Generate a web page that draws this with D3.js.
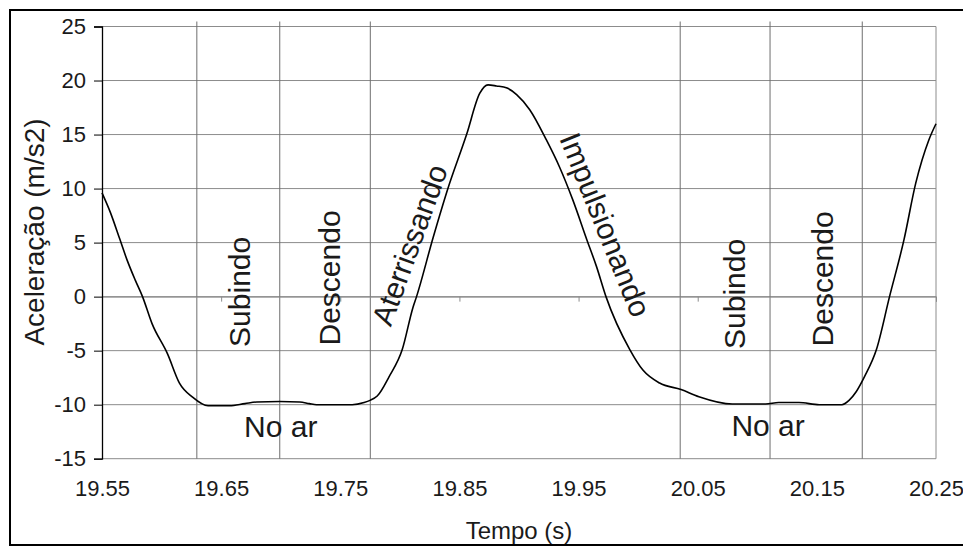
<!DOCTYPE html>
<html>
<head>
<meta charset="utf-8">
<script src="https://cdn.jsdelivr.net/npm/d3@7"></script>
<style>
  html, body { margin: 0; padding: 0; background: #fff; }
  svg { display: block; }
  text { font-family: "Liberation Sans", Arial, sans-serif; fill: #1a1a1a; }
</style>
</head>
<body>
<svg id="chart" width="963" height="547"></svg>
<script>
// ---- data ----
const timeS = [19.550, 19.557, 19.565, 19.571, 19.578, 19.584, 19.592, 19.605, 19.615, 19.626,
               19.639, 19.657, 19.670, 19.680, 19.699, 19.716, 19.724, 19.730, 19.760, 19.770,
               19.775, 19.781, 19.791, 19.802, 19.811, 19.814, 19.828, 19.840, 19.856, 19.867,
               19.874, 19.881, 19.890, 19.898, 19.909, 19.923, 19.934, 19.945, 19.957, 19.965,
               19.973, 19.993, 20.004, 20.018, 20.036, 20.051, 20.079, 20.107, 20.118, 20.135,
               20.152, 20.171, 20.177, 20.183, 20.190, 20.200, 20.211, 20.223, 20.233, 20.244,
               20.250];
const accel = [9.6, 7.8, 5.3, 3.4, 1.5, 0.0, -2.5, -5.3, -8.0, -9.3,
               -10.1, -10.1, -9.9, -9.75, -9.7, -9.75, -9.9, -10.0, -10.0, -9.8,
               -9.6, -9.2, -7.4, -4.9, -1.0, 0.0, 5.5, 9.9, 15.0, 18.8,
               19.6, 19.5, 19.3, 18.7, 17.3, 14.5, 12.0, 9.0, 5.25, 2.8,
               0.0, -4.9, -6.8, -8.0, -8.6, -9.26, -9.94, -9.94, -9.8, -9.8,
               -10.0, -10.0, -9.6, -8.8, -7.4, -4.9, 0.0, 5.2, 10.5, 14.5,
               16.0];

const xTicks = [19.55, 19.65, 19.75, 19.85, 19.95, 20.05, 20.15, 20.25];
const yTicks = [-15, -10, -5, 0, 5, 10, 15, 20, 25];
const phaseTimes = [19.6296, 19.6992, 19.7752, 20.0353, 20.1107, 20.1881];

const noteText  = ["Subindo", "Descendo", "Aterrissando", "Impulsionando", "Subindo", "Descendo"];
const noteTime  = [19.6657, 19.7411, 19.8082, 19.9725, 20.0806, 20.1544];
const noteAccel = [0.44, 1.73, 4.79, 6.64, 0.25, 1.64];
const noteAngle = [-90, -90, -70, 68, -90, -90];

const airText  = ["No ar", "No ar"];
const airTime  = [19.7000, 20.1091];
const airAccel = [-12.99, -12.9];

const xTitle = "Tempo (s)";
const yTitle = "Aceleração (m/s2)";

// ---- layout ----
const svg = d3.select("#chart");
const plotL = 102, plotR = 936, plotT = 26.5, plotB = 458.7;

const x = d3.scaleLinear().domain([19.55, 20.25]).range([plotL, plotR]);
const y = d3.scaleLinear().domain([-15, 25]).range([plotB, plotT]);

// outer frame
svg.append("rect")
  .attr("x", 10).attr("y", 10).attr("width", 960).attr("height", 535)
  .attr("fill", "none").attr("stroke", "#000").attr("stroke-width", 2);

// horizontal gridlines
svg.append("g")
  .selectAll("line").data(yTicks).join("line")
  .attr("x1", plotL).attr("x2", plotR)
  .attr("y1", d => y(d)).attr("y2", d => y(d))
  .attr("stroke", "#8c8c8c").attr("stroke-width", 1);

// right border of plot area
svg.append("line")
  .attr("x1", plotR).attr("x2", plotR).attr("y1", y(25)).attr("y2", y(-15))
  .attr("stroke", "#8c8c8c").attr("stroke-width", 1);

// phase separator lines
svg.append("g")
  .selectAll("line").data(phaseTimes).join("line")
  .attr("x1", d => x(d)).attr("x2", d => x(d))
  .attr("y1", y(25) - 5).attr("y2", y(-15))
  .attr("stroke", "#6e6e6e").attr("stroke-width", 1);

// x axis line at zero with small ticks
const xAxisZero = d3.axisBottom(x).tickValues(xTicks).tickSize(5).tickFormat("");
const gz = svg.append("g").attr("transform", `translate(0,${y(0)})`).call(xAxisZero);
gz.select(".domain").attr("stroke", "#8c8c8c");
gz.selectAll(".tick line").attr("stroke", "#8c8c8c");

// x tick labels along the bottom
const xAxisBottom = d3.axisBottom(x).tickValues(xTicks).tickSize(0).tickPadding(22)
  .tickFormat(d => d.toFixed(2));
const gx = svg.append("g").attr("transform", `translate(0,${y(-15)})`).call(xAxisBottom);
gx.select(".domain").remove();
gx.selectAll("text").attr("font-size", 22).attr("font-family", "Liberation Sans, Arial, sans-serif")
  .attr("fill", "#1a1a1a");

// y axis
const yAxis = d3.axisLeft(y).tickValues(yTicks).tickSize(8).tickPadding(8).tickFormat(d => String(d));
const gy = svg.append("g").attr("transform", `translate(${plotL},0)`).call(yAxis);
gy.select(".domain").attr("stroke", "#000").attr("stroke-width", 1.3);
gy.selectAll(".tick line").attr("stroke", "#000");
gy.selectAll("text").attr("font-size", 22).attr("font-family", "Liberation Sans, Arial, sans-serif")
  .attr("fill", "#1a1a1a");

// curve
const pts = timeS.map((t, i) => [t, accel[i]]);
svg.append("path")
  .datum(pts)
  .attr("fill", "none").attr("stroke", "#000").attr("stroke-width", 1.6)
  .attr("d", d3.line().x(d => x(d[0])).y(d => y(d[1])).curve(d3.curveMonotoneX));

// rotated phase annotations
svg.append("g")
  .selectAll("text").data(noteText).join("text")
  .attr("transform", (d, i) => `translate(${x(noteTime[i])},${y(noteAccel[i])}) rotate(${noteAngle[i]})`)
  .attr("text-anchor", "middle").attr("dominant-baseline", "central")
  .attr("font-size", 30)
  .text(d => d);

// "No ar" labels
svg.append("g")
  .selectAll("text").data(airText).join("text")
  .attr("x", (d, i) => x(airTime[i])).attr("y", (d, i) => y(airAccel[i]))
  .attr("text-anchor", "middle").attr("font-size", 30)
  .text(d => d);

// axis titles
svg.append("text")
  .attr("x", (plotL + plotR) / 2).attr("y", 539)
  .attr("text-anchor", "middle").attr("font-size", 24)
  .text(xTitle);

svg.append("text")
  .attr("transform", `translate(44,232) rotate(-90)`)
  .attr("text-anchor", "middle").attr("font-size", 28)
  .text(yTitle);
</script>
</body>
</html>
